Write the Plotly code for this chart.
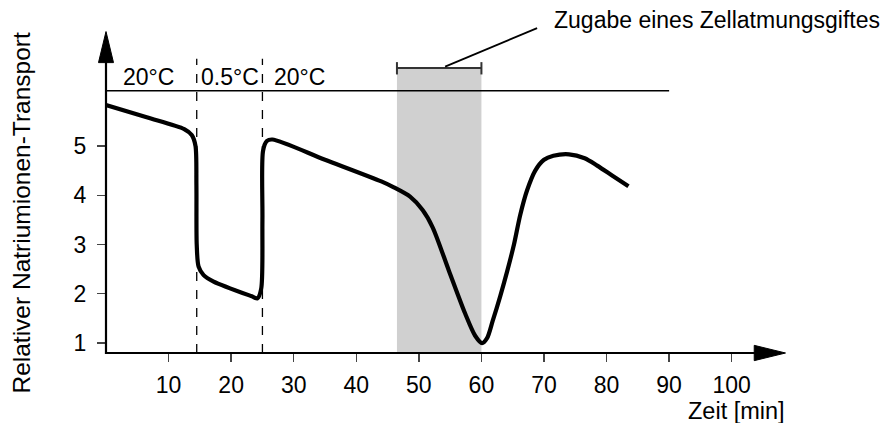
import plotly.graph_objects as go

# ---- data ----
time_min = [0, 6.5, 12.5, 13.7, 14.3, 14.45, 14.5, 14.8, 15.6, 17.2, 23.3, 24.2, 24.8, 25.0, 25.1, 25.7, 26.6,
            35.0, 44.0, 46.0, 48.6, 50.6, 52.2, 54.8, 57.4, 59.0, 60.1, 60.9, 61.8, 63.0, 64.1,
            65.2, 66.2, 67.3, 68.6, 70.0, 71.5, 74.0, 76.5, 78.5, 81.0, 83.5]
transport = [5.83, 5.58, 5.34, 5.22, 5.0, 4.2, 3.0, 2.55, 2.38, 2.25, 1.95, 1.91, 2.1, 3.5, 4.9, 5.10, 5.13,
             4.72, 4.28, 4.16, 3.97, 3.70, 3.35, 2.47, 1.60, 1.15, 1.0, 1.1, 1.45, 1.95, 2.45,
             3.0, 3.6, 4.1, 4.5, 4.72, 4.8, 4.83, 4.75, 4.60, 4.39, 4.18]

x_ticks = [10, 20, 30, 40, 50, 60, 70, 80, 90, 100]
y_ticks = [1, 2, 3, 4, 5]
phase_bounds = [14.5, 25]
phase_labels = ["20°C", "0.5°C", "20°C"]
phase_label_x = [6.8, 19.8, 30.9]
poison_start, poison_end = 46.5, 60
x_label = "Zeit [min]"
y_label = "Relativer Natriumionen-Transport"
poison_label = "Zugabe eines Zellatmungsgiftes"

FONT = "Liberation Sans, Arial, Helvetica, sans-serif"
FS = 23

Y0, Y1 = 0.8, 7.96
X0, X1 = 0, 124.5


def px(x):
    return (x - X0) / (X1 - X0)


def py(y):
    return (y - Y0) / (Y1 - Y0)


fig = go.Figure()
fig.add_trace(go.Scatter(x=time_min, y=transport, mode="lines",
                         line=dict(color="black", width=4.2, shape="spline", smoothing=0.8),
                         hoverinfo="skip", showlegend=False))

shapes = []
# gray poison region
shapes.append(dict(type="rect", xref="x", yref="y", x0=poison_start, x1=poison_end, y0=Y0, y1=6.58,
                   fillcolor="#d0d0d0", line=dict(width=0), layer="below"))
# bracket
shapes.append(dict(type="line", xref="x", yref="y", x0=poison_start, x1=poison_end, y0=6.58, y1=6.58,
                   line=dict(color="#333333", width=2)))
for bx in (poison_start, poison_end):
    shapes.append(dict(type="line", xref="x", yref="y", x0=bx, x1=bx, y0=6.45, y1=6.70,
                       line=dict(color="#333333", width=2)))
# pointer line
shapes.append(dict(type="line", xref="x", yref="y", x0=54.2, y0=6.61, x1=68.9, y1=7.39,
                   line=dict(color="black", width=1.8)))
# horizontal separator
shapes.append(dict(type="line", xref="x", yref="y", x0=0, x1=90, y0=6.12, y1=6.12,
                   line=dict(color="black", width=1.4)))
# dashed phase boundaries
for b in phase_bounds:
    shapes.append(dict(type="line", xref="x", yref="y", x0=b, x1=b, y0=Y0, y1=6.77,
                       line=dict(color="black", width=1.3, dash="dash")))
# axes with arrows (paper refs so they are not clipped)
shapes.append(dict(type="line", xref="paper", yref="paper", x0=px(0) - 0.0013, x1=px(104), y0=py(Y0), y1=py(Y0),
                   line=dict(color="black", width=2.2)))
shapes.append(dict(type="path", xref="paper", yref="paper",
                   path=f"M {px(103.6)} {py(Y0 - 0.155)} L {px(108.6)} {py(Y0)} L {px(103.6)} {py(Y0 + 0.155)} Z",
                   fillcolor="black", line=dict(color="black", width=1)))
shapes.append(dict(type="line", xref="paper", yref="paper", x0=px(0), x1=px(0), y0=py(Y0) - 0.003, y1=py(6.75),
                   line=dict(color="black", width=2.2)))
shapes.append(dict(type="path", xref="paper", yref="paper",
                   path=f"M {px(-1.2)} {py(6.69)} L {px(0)} {py(7.32)} L {px(1.2)} {py(6.69)} Z",
                   fillcolor="black", line=dict(color="black", width=1)))

annotations = []
for lbl, lx in zip(phase_labels, phase_label_x):
    annotations.append(dict(x=lx, y=6.40, xref="x", yref="y", text=lbl, showarrow=False,
                            xanchor="center", yanchor="middle", font=dict(size=FS, color="black", family=FONT)))
annotations.append(dict(x=71.3, y=7.56, xref="x", yref="y", text=poison_label, showarrow=False,
                        xanchor="left", yanchor="middle", font=dict(size=FS, color="black", family=FONT)))
annotations.append(dict(x=(787 - 105.7) / 779.3, y=-(411 - 352.7) / 352.7, xref="paper", yref="paper",
                        text=x_label, showarrow=False, xanchor="right", yanchor="middle",
                        font=dict(size=23.5, color="black", family=FONT)))
annotations.append(dict(x=(21 - 105.7) / 779.3, y=1 - 213 / 352.7, xref="paper", yref="paper",
                        text=y_label, showarrow=False, textangle=-90, xanchor="center", yanchor="middle",
                        font=dict(size=24.5, color="black", family=FONT)))

fig.update_layout(
    width=885, height=423,
    margin=dict(l=105.7, r=885 - 105.7 - 779.3, t=0, b=423 - 352.7, autoexpand=False),
    paper_bgcolor="white", plot_bgcolor="white",
    shapes=shapes, annotations=annotations,
    font=dict(family=FONT, size=FS, color="black"),
    xaxis=dict(range=[X0, X1], tickvals=x_ticks, ticks="outside", ticklen=8, tickwidth=1.3,
               tickcolor="#444444", showgrid=False, zeroline=False, showline=False, automargin=False,
               tickfont=dict(size=FS, color="black", family=FONT), ticklabelstandoff=3),
    yaxis=dict(range=[Y0, Y1], tickvals=y_ticks, ticks="outside", ticklen=8, tickwidth=1.3,
               tickcolor="#444444", showgrid=False, zeroline=False, showline=False, automargin=False,
               tickfont=dict(size=FS, color="black", family=FONT), ticklabelstandoff=6),
)

fig.write_html("out.html", config={"displayModeBar": False, "staticPlot": True},
               post_script="document.body.style.margin='0';document.body.style.padding='0';")
